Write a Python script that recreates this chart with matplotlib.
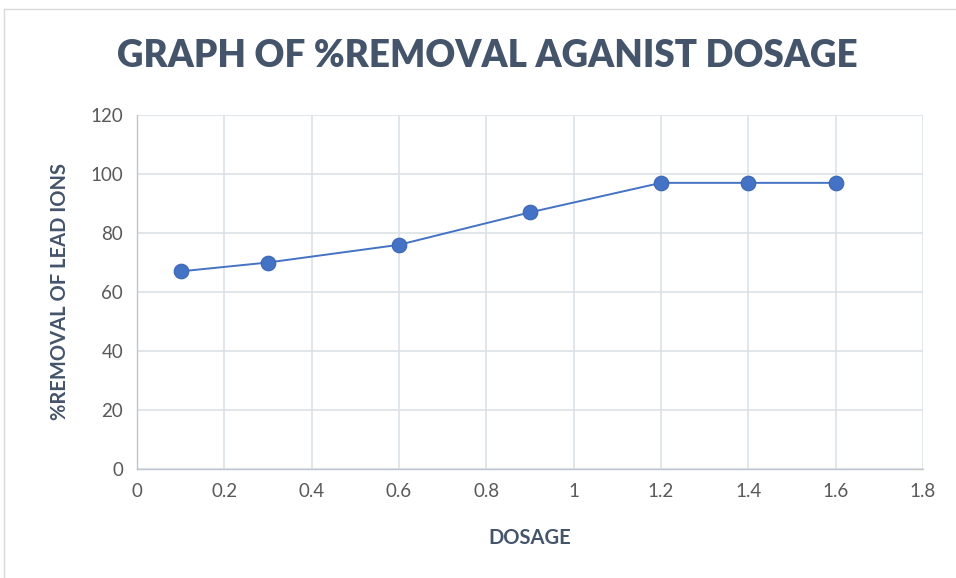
import matplotlib
matplotlib.use("Agg")
import matplotlib.pyplot as plt
from matplotlib.patches import Rectangle

dosage = [0.1, 0.3, 0.6, 0.9, 1.2, 1.4, 1.6]
removal = [67, 70, 76, 87, 97, 97, 97]
x_ticks = [0, 0.2, 0.4, 0.6, 0.8, 1.0, 1.2, 1.4, 1.6, 1.8]
x_tick_labels = ["0", "0.2", "0.4", "0.6", "0.8", "1", "1.2", "1.4", "1.6", "1.8"]
y_ticks = [0, 20, 40, 60, 80, 100, 120]

title_color = "#44546A"
tick_color = "#595959"
grid_color = "#DCE1E8"
line_color = "#4472C4"

plt.rcParams['font.family'] = ['Lato', 'DejaVu Sans']

fig = plt.figure(figsize=(9.56, 5.78), dpi=100)
fig.patch.set_facecolor("white")
# chart border
fig.add_artist(Rectangle((4/956, -0.05), 1.1, 1 - 9/578 + 0.05, transform=fig.transFigure,
                         fill=False, edgecolor="#D9D9D9", linewidth=1.0))

ax = fig.add_axes([137/956, 1 - 469/578, (923 - 137)/956, (469 - 115)/578])
ax.plot(dosage, removal, color=line_color, linewidth=1.4, marker="o",
        markersize=10.5, markerfacecolor=line_color, markeredgecolor="#3A65B3",
        markeredgewidth=0.8, zorder=3)
ax.set_xlim(0, 1.8)
ax.set_ylim(0, 120)
ax.set_xticks(x_ticks)
ax.set_xticklabels(x_tick_labels)
ax.set_yticks(y_ticks)
ax.grid(True, color=grid_color, linewidth=1.2)
ax.set_axisbelow(True)
for s in ["top", "right"]:
    ax.spines[s].set_visible(False)
for s in ["left", "bottom"]:
    ax.spines[s].set_color("#BFC5CC")
    ax.spines[s].set_linewidth(1.0)
ax.tick_params(length=0, labelsize=13.5, colors=tick_color, pad=10)

fig.text(487/956, 1 - 56/578, "GRAPH OF %REMOVAL AGANIST DOSAGE", ha="center", va="center",
         fontsize=26.5, fontweight="heavy", color=title_color)
fig.text(530/956, 1 - 538/578, "DOSAGE", ha="center", va="center",
         fontsize=14.5, fontweight="bold", color=title_color)
fig.text(60/956, 1 - 292/578, "%REMOVAL OF LEAD IONS", ha="center", va="center",
         rotation=90, fontsize=14.5, fontweight="bold", color=title_color)

fig.savefig("out.png", dpi=100)
